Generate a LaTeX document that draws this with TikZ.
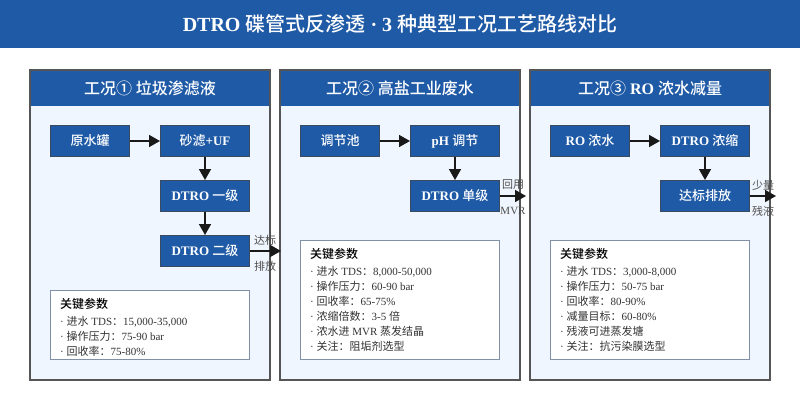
\documentclass[tikz,border=0pt]{standalone}
\usepackage{fontspec}
\setmainfont{Liberation Serif}
\newfontfamily\cjk[BoldFont=Noto Sans CJK SC Medium]{Noto Sans CJK SC}
\usetikzlibrary{arrows.meta}
\newcommand{\zh}[1]{{\cjk #1}}
\definecolor{bleu}{HTML}{1F5AA6}
\definecolor{fond}{HTML}{F0F6FF}
\definecolor{bord}{HTML}{555555}
\definecolor{bordnoeud}{HTML}{3C4A60}
\definecolor{bordparam}{HTML}{8090A6}
\tikzset{
    titre/.style={text=white,font=\bfseries\fontsize{20}{24}\selectfont},
    entete/.style={text=white,font=\bfseries\fontsize{16}{20}\selectfont},
    panneau/.style={draw=bord,line width=1.3pt},
    etape/.style={draw=bordnoeud,line width=1pt,fill=bleu,text=white,inner sep=0pt,
        minimum height=31pt,font=\bfseries\fontsize{13}{16}\selectfont},
    petit/.style={etape,minimum width=79pt},
    grand/.style={etape,minimum width=89pt},
    param/.style={draw=bordparam,line width=1pt,fill=white,inner sep=0pt,outer sep=0pt,anchor=north west},
    cle/.style={anchor=base west,inner sep=0pt,text=black,font=\bfseries\fontsize{12}{14}\selectfont},
    ligne/.style={anchor=base west,inner sep=0pt,text=black!80,font=\fontsize{11}{13}\selectfont},
    note/.style={inner sep=0pt,text=black!70,font=\fontsize{11}{13}\selectfont},
    fleche/.style={draw=black!90,line width=1.6pt,-{Triangle[length=11pt,width=12pt]}},
}
\begin{document}
\begin{tikzpicture}[x=1pt,y=-1pt]
	\useasboundingbox (0,0) rectangle (800,400);
	\fill[white] (0,0) rectangle (800,400);

	%TITRE
	\fill[bleu] (0,0) rectangle (800,48);
	\node[titre] (titre) at (400,24) {DTRO \zh{碟管式反渗透} · 3 \zh{种典型工况工艺路线对比}};

	%PANNEAUX
	\fill[fond] (30,70) rectangle (270,380);
	\fill[bleu] (30,70) rectangle (270,106);
	\draw[panneau] (30,70) rectangle (270,380);
	\node[entete] (t1) at (150,88) {\zh{工况① 垃圾渗滤液}};

	\fill[fond] (280,70) rectangle (520,380);
	\fill[bleu] (280,70) rectangle (520,106);
	\draw[panneau] (280,70) rectangle (520,380);
	\node[entete] (t2) at (400,88) {\zh{工况② 高盐工业废水}};

	\fill[fond] (530,70) rectangle (770,380);
	\fill[bleu] (530,70) rectangle (770,106);
	\draw[panneau] (530,70) rectangle (770,380);
	\node[entete] (t3) at (650,88) {\zh{工况③} RO \zh{浓水减量}};

	%CAS 1
	\node[petit] (a1) at (90,141) {\zh{原水罐}};
	\node[grand] (a2) at (205,141) {\zh{砂滤}+UF};
	\node[grand] (a3) at (205,196) {DTRO \zh{一级}};
	\node[grand] (a4) at (205,251) {DTRO \zh{二级}};
	\coordinate (a5) at (281,251);
	\draw[fleche] (a1) -- (a2);
	\draw[fleche] (a2) -- (a3);
	\draw[fleche] (a3) -- (a4);
	\draw[fleche] (a4) -- (a5);
	\node[note] (a6) at (265,240) {\zh{达标}};
	\node[note] (a7) at (265,266) {\zh{排放}};

	\node[param,minimum width=199pt,minimum height=69pt] (pa) at (50.5,290.5) {};
	\node[cle] (pa0) at (60,308) {\zh{关键参数}};
	\node[ligne] (pa1) at (60,325) {· \zh{进水} TDS\zh{：}15,000-35,000};
	\node[ligne] (pa2) at (60,340) {· \zh{操作压力：}75-90 bar};
	\node[ligne] (pa3) at (60,355) {· \zh{回收率：}75-80\%};

	%CAS 2
	\node[petit] (b1) at (340,141) {\zh{调节池}};
	\node[grand] (b2) at (455,141) {pH \zh{调节}};
	\node[grand] (b3) at (455,196) {DTRO \zh{单级}};
	\coordinate (b4) at (526,196);
	\draw[fleche] (b1) -- (b2);
	\draw[fleche] (b2) -- (b3);
	\draw[fleche] (b3) -- (b4);
	\node[note] (b5) at (513,185) {\zh{回用}};
	\node[note] (b6) at (513,211) {MVR};

	\node[param,minimum width=199pt,minimum height=119pt] (pb) at (300.5,240.5) {};
	\node[cle] (pb0) at (310,258) {\zh{关键参数}};
	\node[ligne] (pb1) at (310,275) {· \zh{进水} TDS\zh{：}8,000-50,000};
	\node[ligne] (pb2) at (310,290) {· \zh{操作压力：}60-90 bar};
	\node[ligne] (pb3) at (310,305) {· \zh{回收率：}65-75\%};
	\node[ligne] (pb4) at (310,320) {· \zh{浓缩倍数：}3-5 \zh{倍}};
	\node[ligne] (pb5) at (310,335) {· \zh{浓水进} MVR \zh{蒸发结晶}};
	\node[ligne] (pb6) at (310,350) {· \zh{关注：阻垢剂选型}};

	%CAS 3
	\node[petit] (c1) at (590,141) {RO \zh{浓水}};
	\node[grand] (c2) at (705,141) {DTRO \zh{浓缩}};
	\node[grand] (c3) at (705,196) {\zh{达标排放}};
	\coordinate (c4) at (776,196);
	\draw[fleche] (c1) -- (c2);
	\draw[fleche] (c2) -- (c3);
	\draw[fleche] (c3) -- (c4);
	\node[note] (c5) at (763,185) {\zh{少量}};
	\node[note] (c6) at (763,211) {\zh{残液}};

	\node[param,minimum width=199pt,minimum height=119pt] (pc) at (550.5,240.5) {};
	\node[cle] (pc0) at (560,258) {\zh{关键参数}};
	\node[ligne] (pc1) at (560,275) {· \zh{进水} TDS\zh{：}3,000-8,000};
	\node[ligne] (pc2) at (560,290) {· \zh{操作压力：}50-75 bar};
	\node[ligne] (pc3) at (560,305) {· \zh{回收率：}80-90\%};
	\node[ligne] (pc4) at (560,320) {· \zh{减量目标：}60-80\%};
	\node[ligne] (pc5) at (560,335) {· \zh{残液可进蒸发塘}};
	\node[ligne] (pc6) at (560,350) {· \zh{关注：抗污染膜选型}};
\end{tikzpicture}
\end{document}
